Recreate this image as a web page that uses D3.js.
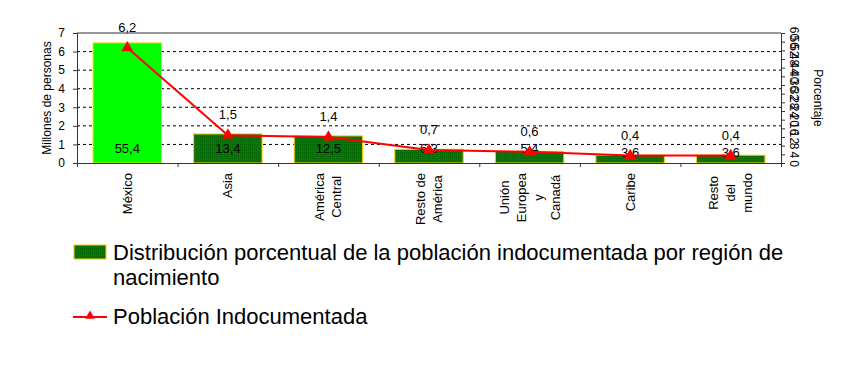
<!DOCTYPE html>
<html>
<head>
<meta charset="utf-8">
<script src="https://cdn.jsdelivr.net/npm/d3@7"></script>
<style>
  body { margin: 0; background: #fff; }
  text { font-family: Arial, "Liberation Sans", sans-serif; fill: #000; }
</style>
</head>
<body>
<script>
// Población indocumentada por región de nacimiento:
// barras = distribución porcentual (eje derecho), línea = millones (eje izquierdo)

var regiones = [
  ["México"], ["Asia"], ["América", "Central"], ["Resto de", "América"],
  ["Unión", "Europea", "y", "Canadá"], ["Caribe"], ["Resto", "del", "mundo"]
];
var porcentaje = [55.4, 13.4, 12.5, 6.3, 5.4, 3.6, 3.6];
var poblacion = [6.2, 1.5, 1.4, 0.7, 0.6, 0.4, 0.4];
var ticksIzq = [0, 1, 2, 3, 4, 5, 6, 7];
var ticksDer = [0, 4, 8, 12, 16, 20, 24, 28, 32, 36, 40, 44, 48, 52, 56, 60];
var leyendaBarras = ["Distribución porcentual de la población indocumentada por región de", "nacimiento"];
var leyendaLinea = "Población Indocumentada";

var W = 862, H = 368;
var pLeft = 77, pRight = 781, pTop = 33, pBottom = 163;

var svg = d3.select("body").append("svg")
  .attr("width", W)
  .attr("height", H);

var defs = svg.append("defs");
var pat = defs.append("pattern")
  .attr("id", "verde")
  .attr("width", 2).attr("height", 2)
  .attr("patternUnits", "userSpaceOnUse");
pat.append("rect").attr("width", 2).attr("height", 2).attr("fill", "#008000");
pat.append("rect").attr("width", 1).attr("height", 1).attr("fill", "#006400");

var idx = d3.range(regiones.length);

var x = d3.scaleBand()
  .domain(idx)
  .range([pLeft, pRight])
  .paddingInner(0.32)
  .paddingOuter(0.16);

var xb = d3.scaleLinear().domain([0, regiones.length]).range([pLeft, pRight]);
var yIzq = d3.scaleLinear().domain([0, 7]).range([pBottom, pTop]);
var yDer = d3.scaleLinear().domain([0, 60]).range([pBottom, pTop]);

var fmt = function (v) { return d3.format(".1f")(v).replace(".", ","); };

// gridlines
svg.append("g")
  .selectAll("line")
  .data(ticksIzq.slice(1, -1))
  .enter()
  .append("line")
  .attr("x1", pLeft).attr("x2", pRight)
  .attr("y1", function (d) { return yIzq(d); })
  .attr("y2", function (d) { return yIzq(d); })
  .attr("stroke", "#000")
  .attr("stroke-dasharray", "3,3");

// top border
svg.append("line")
  .attr("x1", pLeft).attr("x2", pRight)
  .attr("y1", pTop).attr("y2", pTop)
  .attr("stroke", "#333");

// bars
svg.append("g")
  .selectAll("rect")
  .data(idx)
  .enter()
  .append("rect")
  .attr("x", function (i) { return x(i); })
  .attr("width", x.bandwidth())
  .attr("y", function (i) { return yDer(porcentaje[i]); })
  .attr("height", function (i) { return pBottom - yDer(porcentaje[i]); })
  .attr("fill", function (i) { return i === 0 ? "#00ff00" : "url(#verde)"; })
  .attr("stroke", "#ffcc00")
  .attr("stroke-width", 1);

// bar labels
svg.append("g")
  .selectAll("text")
  .data(idx)
  .enter()
  .append("text")
  .attr("x", function (i) { return x(i) + x.bandwidth() / 2; })
  .attr("y", function (i) { return i >= 5 ? 157 : 153; })
  .attr("text-anchor", "middle")
  .style("font-size", "13px")
  .text(function (i) { return fmt(porcentaje[i]); });

// axes
var axIzq = svg.append("g")
  .attr("transform", "translate(" + pLeft + ",0)")
  .call(d3.axisLeft(yIzq).tickValues(ticksIzq).tickSize(4).tickPadding(8).tickFormat(d3.format("d")));
axIzq.selectAll("text").style("font-size", "12px");

var axDer = svg.append("g")
  .attr("transform", "translate(" + pRight + ",0)")
  .call(d3.axisRight(yDer).tickValues(ticksDer).tickSize(4).tickFormat(d3.format("d")));
axDer.selectAll("text")
  .attr("x", 0)
  .attr("dy", "0.35em")
  .attr("text-anchor", "middle")
  .attr("transform", "translate(13,0) rotate(90)")
  .style("font-size", "12px");

svg.append("g")
  .attr("transform", "translate(0," + pBottom + ")")
  .call(d3.axisBottom(xb).tickValues(d3.range(1, regiones.length)).tickSize(4).tickFormat(""));

svg.selectAll(".domain, .tick line").attr("stroke", "#333");

// category labels (rotated, multi-line, centered)
var catG = svg.append("g")
  .selectAll("g")
  .data(idx)
  .enter()
  .append("g");

catG.each(function (i) {
  var g = d3.select(this);
  var lines = regiones[i];
  var n = lines.length;
  var t = g.append("text")
    .attr("text-anchor", "middle")
    .style("font-size", "13px");
  lines.forEach(function (s, k) {
    t.append("tspan")
      .attr("x", 0)
      .attr("y", (k - (n - 1) / 2) * 17)
      .attr("dy", "0.35em")
      .text(s);
  });
  var maxLen = 0;
  t.selectAll("tspan").each(function () {
    maxLen = Math.max(maxLen, this.getComputedTextLength());
  });
  g.attr("transform", "translate(" + (x(i) + x.bandwidth() / 2) + "," + (173 + maxLen / 2) + ") rotate(-90)");
});

// line
var linea = d3.line()
  .x(function (i) { return x(i) + x.bandwidth() / 2; })
  .y(function (i) { return yIzq(poblacion[i]); });

svg.append("path")
  .datum(idx)
  .attr("d", linea)
  .attr("fill", "none")
  .attr("stroke", "#ff0000")
  .attr("stroke-width", 2);

var tri = d3.symbol().type(d3.symbolTriangle).size(60);

svg.append("g")
  .selectAll("path")
  .data(idx)
  .enter()
  .append("path")
  .attr("d", tri)
  .attr("transform", function (i) {
    return "translate(" + (x(i) + x.bandwidth() / 2) + "," + yIzq(poblacion[i]) + ")";
  })
  .attr("fill", "#ff0000");

svg.append("g")
  .selectAll("text")
  .data(idx)
  .enter()
  .append("text")
  .attr("x", function (i) { return x(i) + x.bandwidth() / 2; })
  .attr("y", function (i) { return yIzq(poblacion[i]) - 16; })
  .attr("text-anchor", "middle")
  .style("font-size", "13px")
  .text(function (i) { return fmt(poblacion[i]); });

// axis titles
svg.append("text")
  .attr("transform", "translate(47," + ((pTop + pBottom) / 2) + ") rotate(-90)")
  .attr("dy", "0.35em")
  .attr("text-anchor", "middle")
  .style("font-size", "12px")
  .text("Millones de personas");

svg.append("text")
  .attr("transform", "translate(818," + ((pTop + pBottom) / 2) + ") rotate(90)")
  .attr("dy", "0.35em")
  .attr("text-anchor", "middle")
  .style("font-size", "12px")
  .text("Porcentaje");

// legend
var leg = svg.append("g");
leg.append("rect")
  .attr("x", 74).attr("y", 245)
  .attr("width", 32).attr("height", 14)
  .attr("fill", "url(#verde)")
  .attr("stroke", "#ffcc00");
leg.append("text")
  .attr("x", 113).attr("y", 260)
  .style("font-size", "22px")
  .selectAll("tspan")
  .data(leyendaBarras)
  .enter()
  .append("tspan")
  .attr("x", 113)
  .attr("dy", function (d, k) { return k === 0 ? 0 : 25; })
  .text(function (d) { return d; });

leg.append("line")
  .attr("x1", 73).attr("x2", 107)
  .attr("y1", 317).attr("y2", 317)
  .attr("stroke", "#ff0000")
  .attr("stroke-width", 2);
leg.append("path")
  .attr("d", d3.symbol().type(d3.symbolTriangle).size(40))
  .attr("transform", "translate(90,316)")
  .attr("fill", "#ff0000");
leg.append("text")
  .attr("x", 113).attr("y", 324)
  .style("font-size", "22px")
  .text(leyendaLinea);
</script>
</body>
</html>
